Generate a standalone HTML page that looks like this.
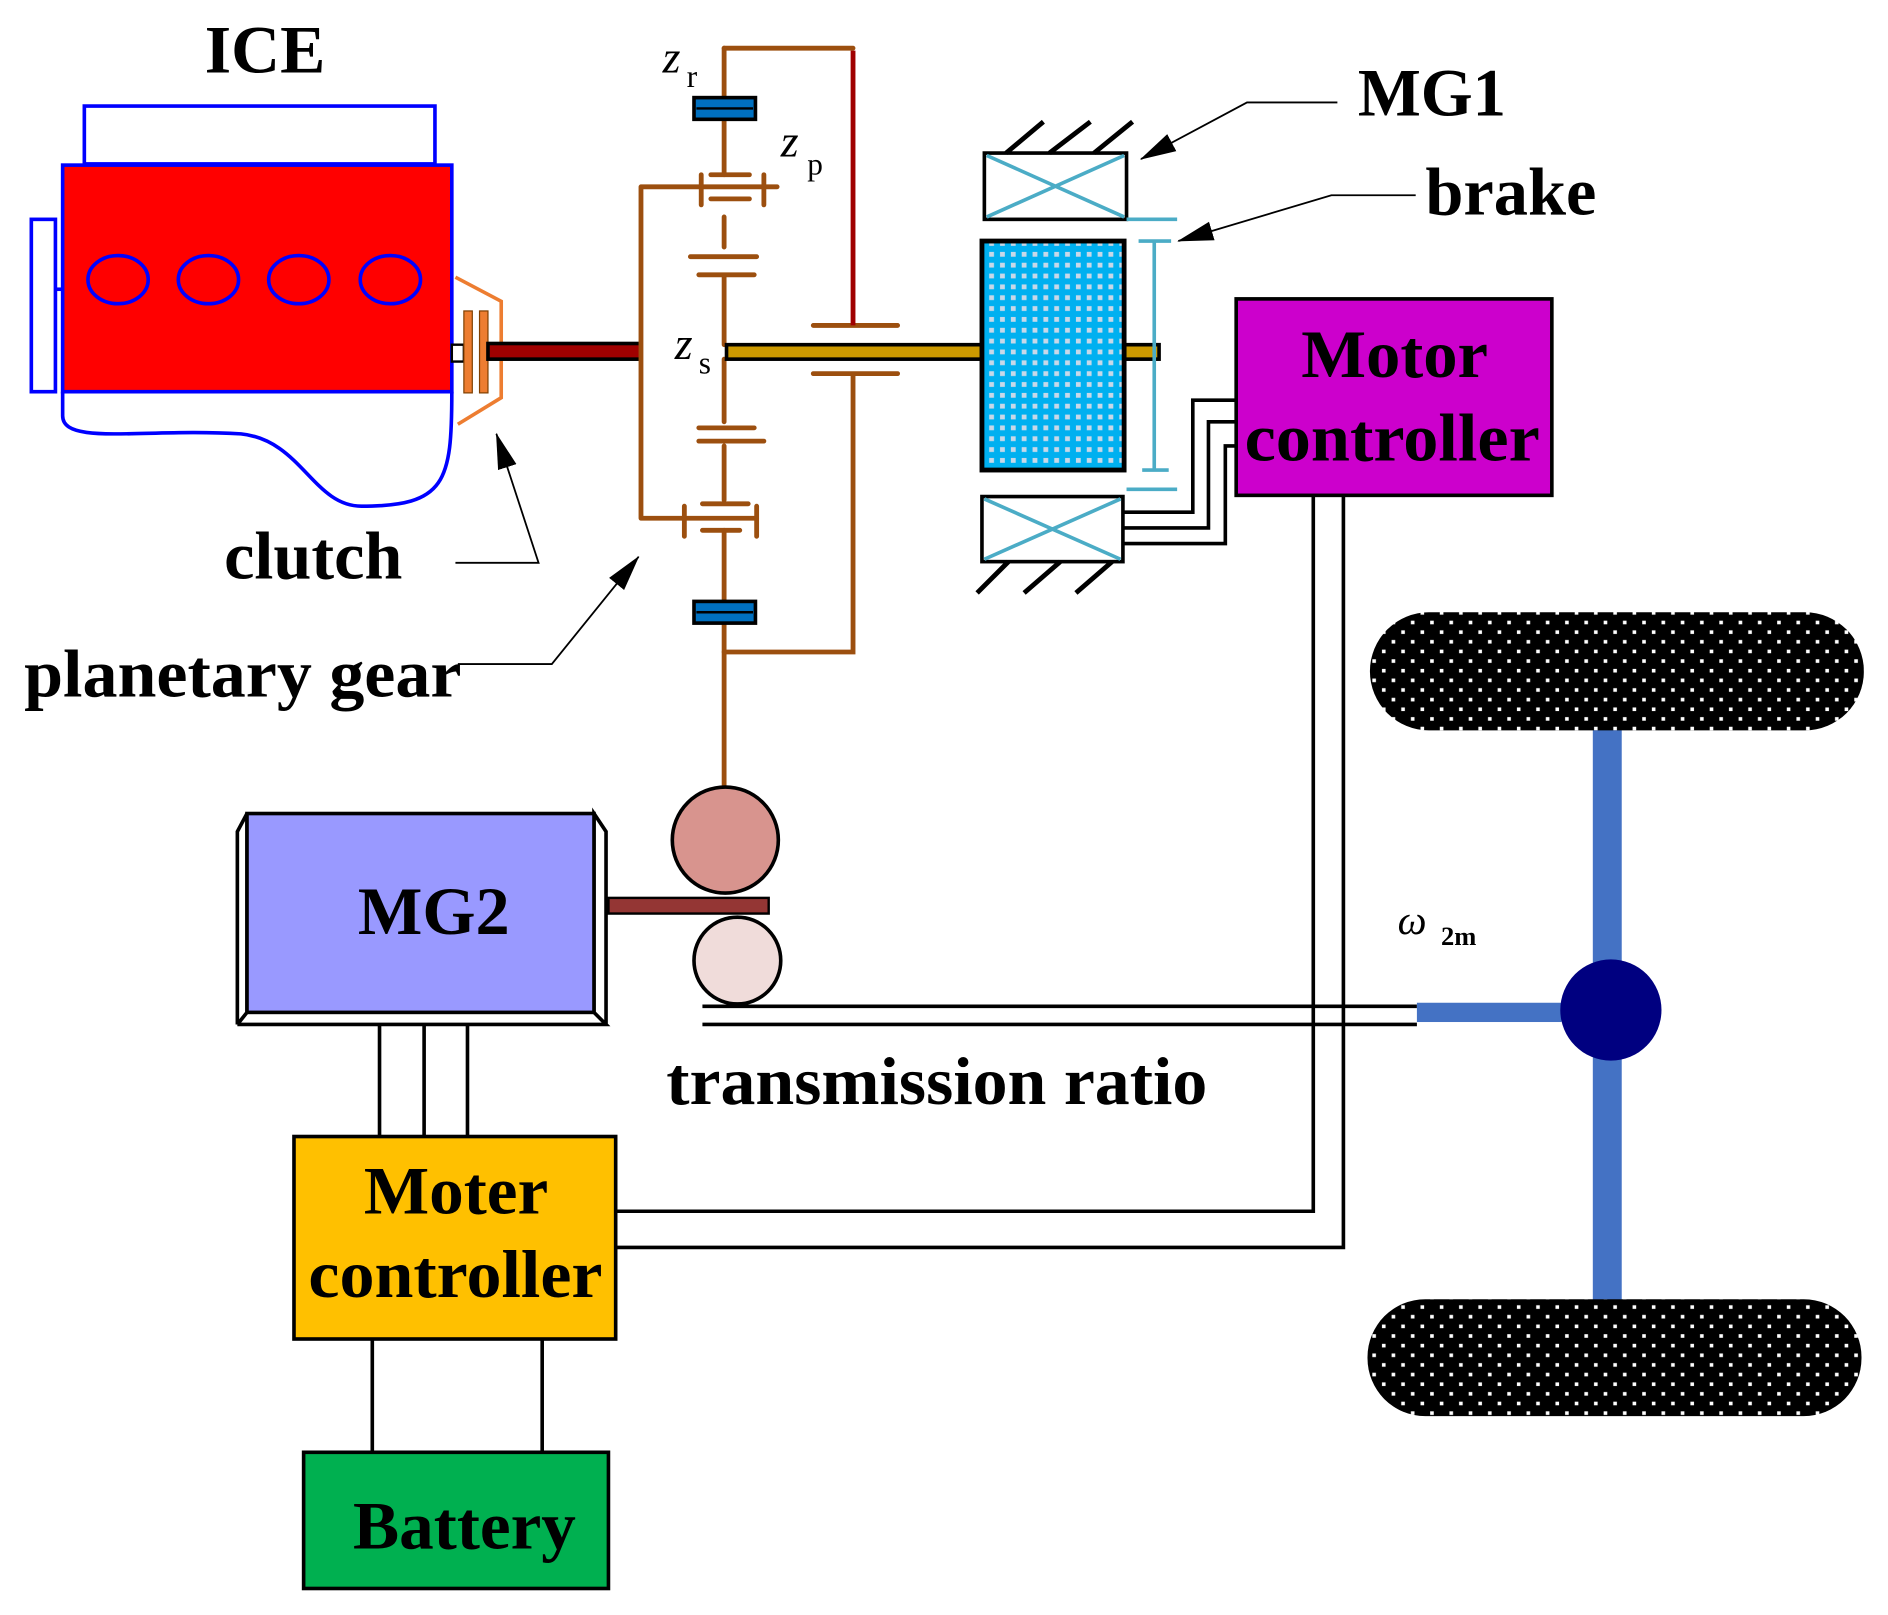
<!DOCTYPE html>
<html><head><meta charset="utf-8"><style>html,body{margin:0;padding:0;background:#fff}svg{display:block}</style></head><body>
<svg width="1888" height="1615" viewBox="0 0 1567 1340" preserveAspectRatio="none" xmlns="http://www.w3.org/2000/svg" font-family="Liberation Serif, serif">
<defs>
<pattern id="bd" width="9" height="9" patternUnits="userSpaceOnUse"><rect width="9" height="9" fill="#00b0f0"/><rect x="2" y="2" width="4" height="4" fill="#c8d8e8"/></pattern>
<pattern id="wd" width="16" height="16" patternUnits="userSpaceOnUse"><rect width="16" height="16" fill="#000"/><rect x="3" y="3" width="3" height="3" fill="#fff"/><rect x="11" y="11" width="3" height="3" fill="#fff"/></pattern>
<marker id="arb" markerWidth="30" markerHeight="20" refX="29" refY="10" orient="auto" markerUnits="userSpaceOnUse"><path d="M0,2 L30,10 L0,18 Z" fill="#000"/></marker>
</defs>
<!-- ICE -->
<rect x="70" y="88" width="291" height="48" fill="none" stroke="#0000ff" stroke-width="3"/>
<rect x="26" y="182" width="20" height="143" fill="none" stroke="#0000ff" stroke-width="3"/>
<line x1="46" y1="240" x2="52" y2="240" stroke="#0000ff" stroke-width="3"/>
<path d="M52,325 L52,345 C52,370 120,355 200,360 C250,365 260,420 300,420 C370,420 375,400 375,325" fill="none" stroke="#0000ff" stroke-width="3"/>
<rect x="52" y="137" width="323" height="188" fill="#ff0000" stroke="#0000ff" stroke-width="3"/>
<g fill="none" stroke="#0000ff" stroke-width="3"><ellipse cx="98" cy="232" rx="25" ry="20"/><ellipse cx="173" cy="232" rx="25" ry="20"/><ellipse cx="248" cy="232" rx="25" ry="20"/><ellipse cx="324" cy="232" rx="25" ry="20"/></g>
<rect x="375" y="286" width="10" height="14" fill="#fff" stroke="#000" stroke-width="2"/>
<path d="M378,230 L416,250 L416,330 L380,352" fill="none" stroke="#ed7d31" stroke-width="3"/>
<rect x="385" y="258" width="7" height="68" fill="#ed7d31" stroke="#7f3f00" stroke-width="1"/>
<rect x="398" y="258" width="7" height="68" fill="#ed7d31" stroke="#7f3f00" stroke-width="1"/>
<rect x="405" y="285" width="127" height="13" fill="#a00000" stroke="#000" stroke-width="3"/>
<!-- planetary -->
<g stroke="#9c4f0f" stroke-width="4" fill="none" stroke-linecap="round">
<path d="M532,155 L532,430 M532,155 L645,155 M532,430 L628,430"/>
<path d="M582,145 L582,170 M634,145 L634,170 M568,420 L568,445 M628,420 L628,445"/>
<path d="M601,40 L601,80 M601,100 L601,145 M601,180 L601,205 M601,230 L601,286 M601,298 L601,350 M601,370 L601,415 M601,440 L601,498 M601,517 L601,652"/>
<path d="M590,145 L622,145 M590,165 L622,165 M573,213 L628,213 M580,228 L626,228 M580,355 L626,355 M580,366 L634,366 M583,418 L621,418 M583,440 L614,440"/>
<path d="M601,40 L620,40 L708,40 M675,270 L745,270 M675,310 L745,310 M708,310 L708,541 L601,541"/>
</g>
<line x1="708" y1="42" x2="708" y2="270" stroke="#a00000" stroke-width="4"/>
<rect x="576" y="81" width="51" height="18" fill="#0070c0" stroke="#000" stroke-width="3"/><line x1="578" y1="90" x2="625" y2="90" stroke="#000" stroke-width="2"/>
<rect x="576" y="499" width="51" height="18" fill="#0070c0" stroke="#000" stroke-width="3"/><line x1="578" y1="508" x2="625" y2="508" stroke="#000" stroke-width="2"/>
<rect x="603" y="286" width="359" height="12" fill="#cc9900" stroke="#000" stroke-width="3"/>
<!-- MG1 -->
<rect x="815" y="200" width="118" height="190" fill="url(#bd)" stroke="#000" stroke-width="4"/>
<rect x="817" y="127" width="118" height="55" fill="#fff" stroke="#000" stroke-width="3"/>
<path d="M819,129 L933,180 M819,180 L933,129" stroke="#4bacc6" stroke-width="3"/>
<rect x="815" y="412" width="117" height="54" fill="#fff" stroke="#000" stroke-width="3"/>
<path d="M817,414 L930,464 M817,464 L930,414" stroke="#4bacc6" stroke-width="3"/>
<g stroke="#000" stroke-width="4"><path d="M835,127 L866,101 M871,127 L905,101 M908,127 L940,101 M811,492 L837,466 M850,492 L880,466 M893,492 L923,466"/></g>
<g stroke="#4bacc6" stroke-width="3"><path d="M935,182 L977,182 M945,200 L972,200 M958,200 L958,390 M948,390 L970,390 M935,406 L977,406"/></g>
<path d="M1110,85 L1035,85 L947,132" fill="none" stroke="#000" stroke-width="1.5" marker-end="url(#arb)"/>
<path d="M1175,162 L1105,162 L978,200" fill="none" stroke="#000" stroke-width="1.5" marker-end="url(#arb)"/>
<g font-weight="bold" font-size="56" lengthAdjust="spacingAndGlyphs">
<text x="1127" y="96" textLength="123" lengthAdjust="spacingAndGlyphs">MG1</text>
<text x="1183" y="178" textLength="142" lengthAdjust="spacingAndGlyphs">brake</text>
</g>
<!-- motor controller -->
<g fill="none" stroke="#000" stroke-width="3">
<path d="M933,425 L990,425 L990,332 L1026,332 M933,438 L1003,438 L1003,350 L1026,350 M933,451 L1017,451 L1017,370 L1026,370"/>
<path d="M1090,411 L1090,1005 L512,1005 M1115,411 L1115,1035 L512,1035"/>
<path d="M583,835 L1176,835 M583,850 L1176,850"/>
<path d="M315,850 L315,943 M352,850 L352,943 M388,850 L388,943 M309,1111 L309,1205 M450,1111 L450,1205"/>
</g>
<rect x="1026" y="248" width="262" height="163" fill="#cc00cc" stroke="#000" stroke-width="3"/>
<text x="1080" y="313" font-size="56" font-weight="bold" textLength="155" lengthAdjust="spacingAndGlyphs">Motor</text>
<text x="1033" y="382" font-size="56" font-weight="bold" textLength="245" lengthAdjust="spacingAndGlyphs">controller</text>
<!-- wheels -->
<rect x="1322" y="600" width="24" height="485" fill="#4472c4"/>
<rect x="1176" y="832" width="120" height="16" fill="#4472c4"/>
<rect x="1137" y="508" width="410" height="98" rx="49" fill="url(#wd)"/>
<rect x="1135" y="1078" width="410" height="97" rx="48" fill="url(#wd)"/>
<circle cx="1337" cy="838" r="42" fill="#000080"/>
<text x="1160" y="775" font-size="34" font-style="italic">ω</text><text x="1196" y="784" font-size="22" font-weight="bold">2m</text>
<!-- gears & MG2 -->
<rect x="505" y="745" width="133" height="13" fill="#943634" stroke="#000" stroke-width="2"/>
<circle cx="602" cy="697" r="44" fill="#d8948e" stroke="#000" stroke-width="3"/>
<circle cx="612" cy="797" r="36" fill="#f0dcda" stroke="#000" stroke-width="3"/>
<path d="M197,850 L503,850 L493,840 L493,675 L503,690 L503,850 M197,850 L205,840 L205,675 L197,690 L197,850" fill="none" stroke="#000" stroke-width="3"/>
<rect x="205" y="675" width="288" height="165" fill="#9999ff" stroke="#000" stroke-width="3"/>
<text x="297" y="775" font-size="56" font-weight="bold" textLength="126" lengthAdjust="spacingAndGlyphs">MG2</text>
<rect x="244" y="943" width="267" height="168" fill="#ffc000" stroke="#000" stroke-width="3"/>
<text x="302" y="1007" font-size="56" font-weight="bold" textLength="153" lengthAdjust="spacingAndGlyphs">Moter</text>
<text x="256" y="1076" font-size="56" font-weight="bold" textLength="244" lengthAdjust="spacingAndGlyphs">controller</text>
<rect x="252" y="1205" width="253" height="113" fill="#00b050" stroke="#000" stroke-width="3"/>
<text x="293" y="1285" font-size="56" font-weight="bold" textLength="185" lengthAdjust="spacingAndGlyphs">Battery</text>
<!-- labels -->
<text x="170" y="60" font-size="56" font-weight="bold" textLength="100" lengthAdjust="spacingAndGlyphs">ICE</text>
<text x="186" y="480" font-size="56" font-weight="bold" textLength="148" lengthAdjust="spacingAndGlyphs">clutch</text>
<text x="20" y="578" font-size="56" font-weight="bold" textLength="363" lengthAdjust="spacingAndGlyphs">planetary gear</text>
<text x="553" y="916" font-size="56" font-weight="bold" textLength="449" lengthAdjust="spacingAndGlyphs">transmission ratio</text>
<path d="M378,467 L447,467 L412,360" fill="none" stroke="#000" stroke-width="1.5" marker-end="url(#arb)"/>
<path d="M380,551 L458,551 L530,462" fill="none" stroke="#000" stroke-width="1.5" marker-end="url(#arb)"/>
<text x="550" y="60" font-size="38" font-style="italic">z</text><text x="570" y="72" font-size="26">r</text>
<text x="648" y="130" font-size="38" font-style="italic">z</text><text x="670" y="145" font-size="26">p</text>
<text x="560" y="298" font-size="38" font-style="italic">z</text><text x="580" y="310" font-size="26">s</text>
</svg>
</body></html>
